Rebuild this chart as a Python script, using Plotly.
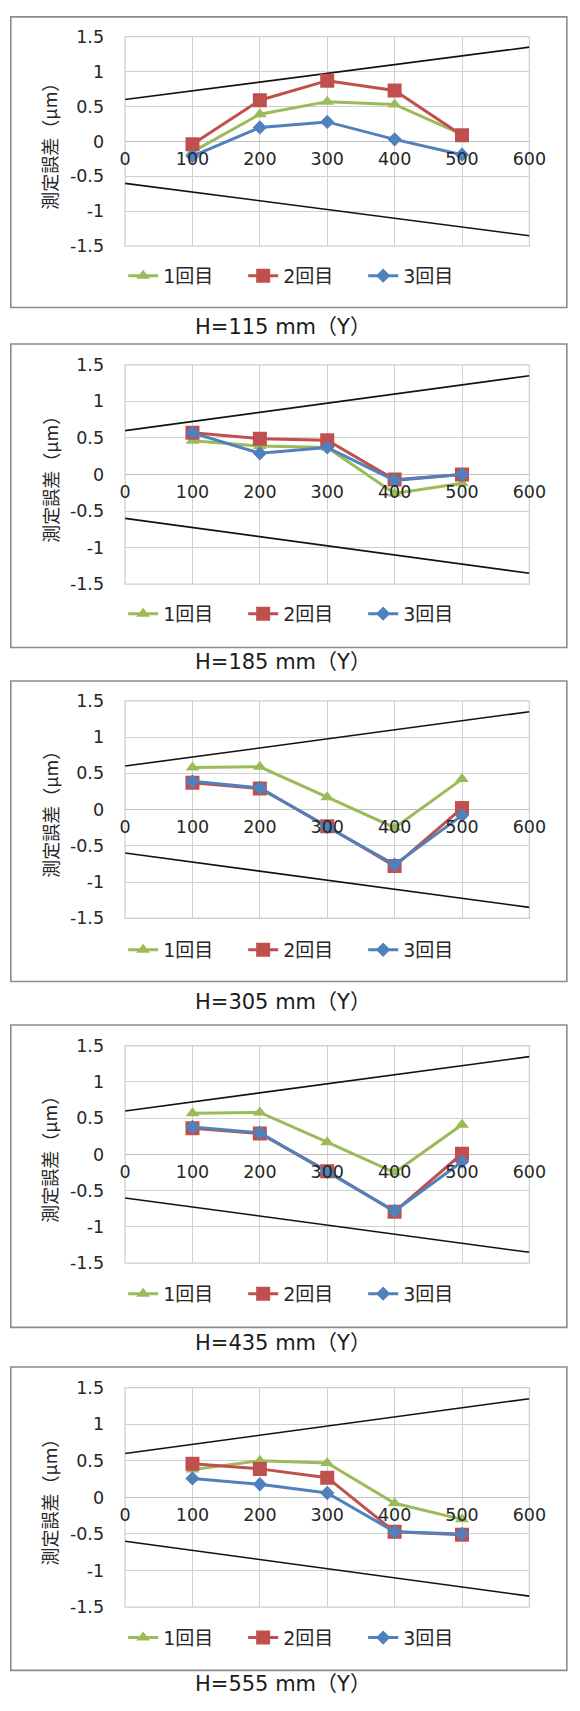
import plotly.graph_objects as go

W, H = 580, 1711

# ---------------- data ----------------
x_vals = [100, 200, 300, 400, 500]
series_names = ["1回目", "2回目", "3回目"]
panel_titles = ["H=115 mm（Y）", "H=185 mm（Y）", "H=305 mm（Y）", "H=435 mm（Y）", "H=555 mm（Y）"]

run1_h115 = [-0.15, 0.39, 0.57, 0.53, 0.10]
run2_h115 = [-0.04, 0.59, 0.87, 0.73, 0.09]
run3_h115 = [-0.21, 0.20, 0.28, 0.03, -0.19]

run1_h185 = [0.46, 0.39, 0.37, -0.26, -0.12]
run2_h185 = [0.57, 0.49, 0.47, -0.07, 0.00]
run3_h185 = [0.57, 0.29, 0.37, -0.08, 0.00]

run1_h305 = [0.58, 0.59, 0.17, -0.25, 0.42]
run2_h305 = [0.37, 0.29, -0.23, -0.78, 0.02]
run3_h305 = [0.39, 0.30, -0.24, -0.76, -0.08]

run1_h435 = [0.57, 0.58, 0.17, -0.25, 0.41]
run2_h435 = [0.36, 0.29, -0.23, -0.79, 0.01]
run3_h435 = [0.38, 0.30, -0.24, -0.78, -0.10]

run1_h555 = [0.38, 0.50, 0.47, -0.08, -0.30]
run2_h555 = [0.46, 0.39, 0.27, -0.47, -0.51]
run3_h555 = [0.26, 0.18, 0.06, -0.47, -0.50]

limit_x = [0, 600]
upper_limit = [0.6, 1.35]
lower_limit = [-0.6, -1.35]

y_tick_vals = [-1.5, -1, -0.5, 0, 0.5, 1, 1.5]
y_tick_text = ["-1.5", "-1", "-0.5", "0", "0.5", "1", "1.5"]
x_tick_vals = [0, 100, 200, 300, 400, 500, 600]
x_tick_text = ["0", "100", "200", "300", "400", "500", "600"]
y_axis_title = "測定誤差（μm）"

panel_data = [
    (run1_h115, run2_h115, run3_h115),
    (run1_h185, run2_h185, run3_h185),
    (run1_h305, run2_h305, run3_h305),
    (run1_h435, run2_h435, run3_h435),
    (run1_h555, run2_h555, run3_h555),
]

# ---------------- layout geometry (pixels) ----------------
panels = [
    dict(frame=(7, 301), plot=(27, 239), legend=275, title=324),
    dict(frame=(338, 645), plot=(359, 581), legend=617, title=663),
    dict(frame=(679, 983), plot=(699, 919), legend=957, title=1007),
    dict(frame=(1027, 1333), plot=(1048, 1268), legend=1305, title=1352),
    dict(frame=(1373, 1680), plot=(1394, 1616), legend=1653, title=1697),
]
PLOT_L, PLOT_R = 124, 545
FRAME_L, FRAME_R = 5, 584

FONT_NUM = "DejaVu Sans, Noto Sans CJK JP, sans-serif"
FONT_JP = "Noto Sans CJK JP, DejaVu Sans, sans-serif"
TXT = "#262626"
GRID = "#d0d0d0"

colors = ["#9BBB59", "#C0504D", "#4F81BD"]
symbols = ["triangle-up", "square", "diamond"]
msizes = [12, 14, 11]


def py(p):
    return 1 - p / H


def px(p):
    return p / W


fig = go.Figure()
shapes = []
annotations = []
layout = dict(
    width=W, height=H, margin=dict(l=0, r=0, t=0, b=0),
    paper_bgcolor="white", plot_bgcolor="white",
    font=dict(family=FONT_NUM, size=16, color=TXT),
)

for i, (pan, data, title) in enumerate(zip(panels, panel_data, panel_titles), start=1):
    xa = "x" if i == 1 else f"x{i}"
    ya = "y" if i == 1 else f"y{i}"
    lg = "legend" if i == 1 else f"legend{i}"
    top, bot = pan["plot"]
    mid = (top + bot) / 2

    # limit lines
    for lim in (upper_limit, lower_limit):
        fig.add_trace(go.Scatter(
            x=limit_x, y=lim, mode="lines", xaxis=xa, yaxis=ya,
            line=dict(color="#111111", width=1.6), showlegend=False, hoverinfo="skip"))

    for k in range(3):
        fig.add_trace(go.Scatter(
            x=x_vals, y=data[k], mode="lines+markers", name=series_names[k],
            xaxis=xa, yaxis=ya, legend=lg,
            line=dict(color=colors[k], width=3),
            marker=dict(symbol=symbols[k], size=msizes[k], color=colors[k])))

    layout["xaxis" if i == 1 else f"xaxis{i}"] = dict(
        domain=[px(PLOT_L), px(PLOT_R)], range=[0, 600],
        anchor="free", position=py(mid),
        tickvals=x_tick_vals, ticktext=x_tick_text,
        showgrid=True, gridcolor=GRID, gridwidth=1.3,
        zeroline=False, showline=False,
        ticks="", ticklabelstandoff=5,
        tickfont=dict(family=FONT_NUM, size=17.5, color=TXT),
    )
    layout["yaxis" if i == 1 else f"yaxis{i}"] = dict(
        domain=[py(bot), py(top)], range=[-1.5, 1.5], anchor=xa,
        tickvals=y_tick_vals, ticktext=y_tick_text,
        showgrid=True, gridcolor=GRID, gridwidth=1.3,
        zeroline=True, zerolinecolor="#c0c0c0", zerolinewidth=1.3,
        showline=False, ticks="", ticklabelstandoff=20,
        tickfont=dict(family=FONT_NUM, size=17.5, color=TXT),
    )
    layout[lg] = dict(
        orientation="h", x=px(122), y=py(pan["legend"] - 6),
        xanchor="left", yanchor="middle",
        bgcolor="rgba(0,0,0,0)", borderwidth=0,
        font=dict(family=FONT_NUM, size=19, color="#262626"),
        entrywidth=75, entrywidthmode="pixels",
        itemclick=False, itemdoubleclick=False,
    )

    # plot area border
    shapes.append(dict(type="rect", xref="paper", yref="paper",
                       x0=px(PLOT_L), x1=px(PLOT_R), y0=py(bot), y1=py(top),
                       line=dict(color=GRID, width=1.3), layer="below"))
    # chart frame
    f0, f1 = pan["frame"]
    shapes.append(dict(type="rect", xref="paper", yref="paper",
                       x0=px(FRAME_L), x1=px(FRAME_R), y0=py(f1), y1=py(f0),
                       line=dict(color="#8c8c8c", width=1.6)))
    # y axis title
    annotations.append(dict(text=y_axis_title, xref="paper", yref="paper",
                            x=px(45), y=py(mid), showarrow=False, textangle=-90,
                            xanchor="center", yanchor="middle",
                            font=dict(family=FONT_JP, size=18, color="#262626")))
    # panel caption
    annotations.append(dict(text=title, xref="paper", yref="paper",
                            x=px(288), y=py(pan["title"] - 3), showarrow=False,
                            xanchor="center", yanchor="middle",
                            font=dict(family=FONT_NUM, size=21, color="#1a1a1a")))

layout["shapes"] = shapes
layout["annotations"] = annotations
fig.update_layout(**layout)
fig.write_html("out.html")
